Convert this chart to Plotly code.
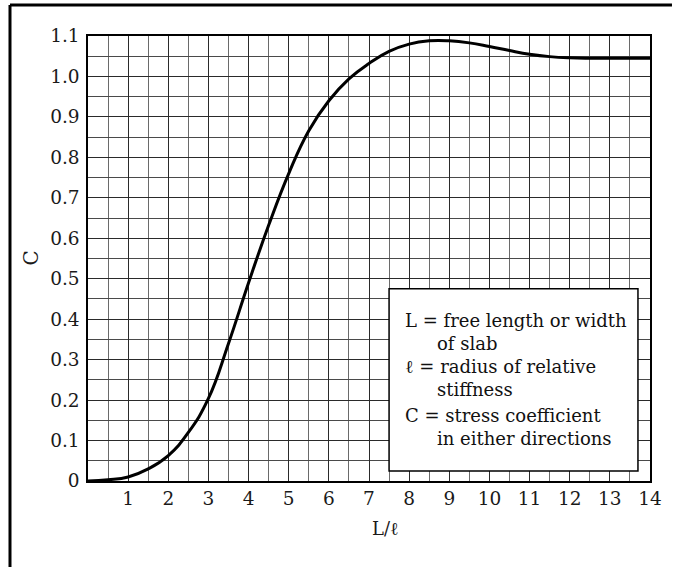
import plotly.graph_objects as go

# Stress coefficient C versus L/l (curve read at half-unit steps)
ratio = [0, 0.5, 1, 1.5, 2, 2.5, 3, 3.5, 4, 4.5, 5, 5.5, 6, 6.5, 7, 7.5,
         8, 8.5, 9, 9.5, 10, 10.5, 11, 11.5, 12, 12.5, 13, 13.5, 14]
coef = [0, 0.003, 0.010, 0.030, 0.063, 0.120, 0.204, 0.340, 0.490, 0.632,
        0.760, 0.866, 0.940, 0.994, 1.032, 1.062, 1.080, 1.088, 1.088, 1.083,
        1.074, 1.064, 1.055, 1.049, 1.046, 1.045, 1.045, 1.045, 1.045]

x_ticks = list(range(1, 15))
y_ticks = [0, 0.1, 0.2, 0.3, 0.4, 0.5, 0.6, 0.7, 0.8, 0.9, 1.0, 1.1]
y_tick_text = ["0", "0.1", "0.2", "0.3", "0.4", "0.5", "0.6", "0.7", "0.8",
               "0.9", "1.0", "1.1"]

key_lines = [
    ("L = free length or width", 7.85, 0.396),
    ("of slab", 8.64, 0.341),
    ("\u2113 = radius of relative", 7.85, 0.283),
    ("stiffness", 8.64, 0.225),
    ("C = stress coefficient", 7.85, 0.163),
    ("in either directions", 8.64, 0.106),
]

FONT = "DejaVu Serif"

fig = go.Figure()
fig.add_trace(go.Scatter(
    x=ratio, y=coef, mode="lines",
    line=dict(color="black", width=3, shape="spline", smoothing=1.3),
    hoverinfo="skip", showlegend=False,
))

axis_common = dict(
    showline=True, linecolor="black", linewidth=1.5, mirror=True,
    ticks="", zeroline=False, showgrid=True,
    gridcolor="#2a2a2a", gridwidth=1.3,
    tickfont=dict(family=FONT, size=18.5, color="#1a1a1a"),
)

fig.update_xaxes(
    range=[0, 14], tickvals=x_ticks, ticklabelstandoff=0,
    minor=dict(dtick=0.5, tick0=0, showgrid=True, gridcolor="#6a6a6a", gridwidth=1),
    **axis_common,
)
fig.update_yaxes(
    range=[0, 1.1], tickvals=y_ticks, ticktext=y_tick_text, ticklabelstandoff=3,
    minor=dict(dtick=0.05, tick0=0, showgrid=True, gridcolor="#4a4a4a", gridwidth=1.1),
    **axis_common,
)

# key box inside the plot
fig.add_shape(type="rect", xref="x", yref="y", x0=7.5, x1=13.7, y0=0.025, y1=0.475,
              fillcolor="white", line=dict(color="black", width=1.5), layer="above")

for text, xp, yp in key_lines:
    fig.add_annotation(x=xp, y=yp, xref="x", yref="y", text=text, showarrow=False,
                       xanchor="left", yanchor="middle",
                       font=dict(family=FONT, size=18, color="#111"))

# axis titles
fig.add_annotation(x=7.42, y=-0.106, xref="x", yref="paper", text="L/\u2113",
                   showarrow=False, xanchor="center", yanchor="middle",
                   font=dict(family=FONT, size=18, color="#1a1a1a"))
fig.add_annotation(x=-0.103, y=0.5, xref="paper", yref="paper", text="C",
                   showarrow=False, textangle=-90, xanchor="center", yanchor="middle",
                   font=dict(family=FONT, size=20, color="#1a1a1a"))

# outer frame (left and top edges)
fig.add_shape(type="line", xref="paper", yref="paper", x0=-0.1388, x1=-0.1388,
              y0=1.0697, y1=-0.3, line=dict(color="black", width=3))
fig.add_shape(type="line", xref="paper", yref="paper", x0=-0.1388, x1=1.0391,
              y0=1.0697, y1=1.0697, line=dict(color="black", width=3))

fig.update_layout(
    width=674, height=567,
    margin=dict(l=88, r=24, t=36, b=86),
    paper_bgcolor="white", plot_bgcolor="white",
    showlegend=False,
)

fig.write_html("out.html")
